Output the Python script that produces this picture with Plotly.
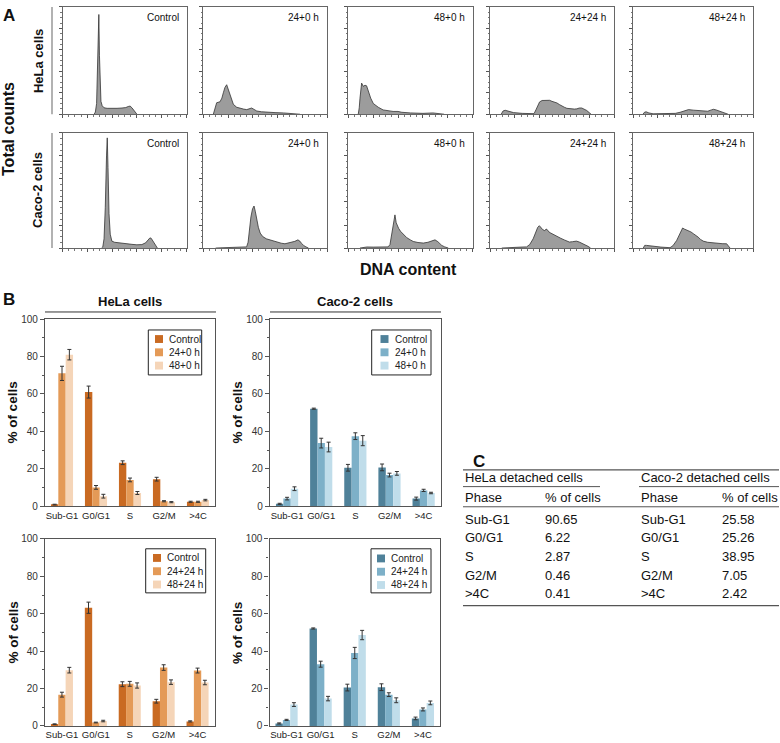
import plotly.graph_objects as go

W, H = 780, 743
FONT = "Liberation Sans, Arial, sans-serif"


def fx(p):
    return p / W


def fy(p):
    return 1 - p / H


# ---------------- Panel A: DNA content histograms ----------------
hist_titles = ["Control", "24+0 h", "48+0 h", "24+24 h", "48+24 h"]

hela_control_x = [255, 265, 275, 282, 288, 293, 298, 304, 310, 320, 335, 360, 400, 440, 480, 510, 530, 545, 560, 575, 590, 600]
hela_control_y = [0, 2, 10, 40, 80, 93, 55, 22, 12, 8, 6, 5.5, 5.2, 5.5, 5.8, 6.2, 7.2, 7.6, 6, 3.5, 1.2, 0]

hela_24_0_x = [81, 95, 108, 135, 150, 162, 175, 189, 200, 216, 230, 243, 270, 296, 325, 351, 372, 391, 410, 432, 470, 512, 580, 647, 700, 728, 782]
hela_24_0_y = [0, 6, 10.7, 11.6, 15, 20, 25, 27.5, 24, 18.3, 13, 9.2, 6.5, 5.5, 4.8, 4.3, 5, 5.8, 4.5, 3, 2.3, 1.8, 1.5, 1.2, 0.9, 0.6, 0]

hela_48_0_x = [80, 88, 94, 101, 107, 121, 134, 147, 161, 180, 201, 241, 280, 320, 360, 400, 430, 500, 600, 680, 720, 770]
hela_48_0_y = [0, 6, 15, 24, 29, 26, 27, 26.5, 21, 15, 10, 6.5, 4, 3, 2.6, 2.6, 1.8, 1.2, 0.8, 1.2, 0.8, 0]

hela_24_24_x = [90, 105, 122, 150, 190, 260, 330, 355, 370, 385, 400, 420, 440, 460, 480, 500, 520, 540, 560, 580, 600, 620, 650, 680, 700, 720, 740, 760, 780, 800, 815]
hela_24_24_y = [0, 3, 3.7, 2.5, 1.5, 0.8, 0.3, 0.5, 4, 8, 11.5, 12.8, 13, 12.5, 13, 12, 11.5, 10.5, 9, 7.5, 6.5, 5.5, 5, 4.8, 5, 5.8, 5.8, 5, 3.5, 1.5, 0]

hela_48_24_x = [80, 95, 108, 130, 165, 250, 310, 350, 390, 425, 460, 500, 540, 580, 620, 650, 668, 690, 723, 760, 790]
hela_48_24_y = [0, 2, 2.2, 1.2, 0.4, 0.3, 0.5, 0.8, 1.8, 3, 4.3, 3.8, 3.3, 2.8, 2.8, 4, 4.6, 4, 2.5, 1, 0]

caco_control_x = [315, 325, 335, 345, 355, 361, 367, 375, 385, 398, 420, 450, 480, 520, 560, 600, 640, 670, 690, 705, 715, 728, 740, 755, 765]
caco_control_y = [0, 1, 8, 35, 80, 95.7, 70, 30, 12, 6, 5, 4.5, 4, 3.7, 3.2, 2.8, 3, 4.5, 7, 8.8, 8.5, 6, 3.5, 1, 0]

caco_24_0_x = [100, 200, 300, 350, 362, 372, 385, 398, 410, 420, 432, 445, 460, 480, 510, 540, 570, 600, 630, 660, 690, 714, 740, 765, 780, 795, 810, 830, 850]
caco_24_0_y = [0, 0.3, 0.5, 1, 5, 15, 27, 34, 36.5, 32, 25, 18, 13, 10, 8, 7, 6, 5, 4.2, 3.7, 4.3, 5, 5.8, 7.1, 6, 4, 2.3, 1, 0]

caco_48_0_x = [94, 150, 200, 250, 300, 320, 335, 350, 362, 375, 385, 395, 405, 420, 442, 470, 500, 522, 560, 603, 640, 670, 697, 720, 740, 751, 775, 804]
caco_48_0_y = [0, 0.9, 0.8, 1, 0.9, 1, 3, 12, 22, 28.8, 22, 19, 17, 14.5, 12.2, 9, 7, 5.7, 4.8, 4.3, 5, 6.3, 7.1, 5.5, 3.5, 2.3, 1, 0]

caco_24_24_x = [95, 150, 200, 250, 295, 320, 348, 370, 385, 398, 410, 425, 442, 452, 461, 475, 490, 510, 540, 570, 600, 617, 640, 665, 697, 720, 745, 765, 790, 811]
caco_24_24_y = [0, 0.5, 0.6, 0.8, 1, 3, 8, 14, 18, 19.4, 18, 16, 15, 16.5, 16, 14, 13, 11.7, 10, 8.5, 7, 6, 5.2, 5.5, 6, 5.2, 4, 3.1, 1.5, 0]

caco_48_24_x = [83, 95, 110, 140, 167, 230, 306, 330, 361, 385, 400, 411, 425, 440, 458, 480, 500, 514, 540, 560, 583, 620, 667, 700, 740, 778, 795, 806]
caco_48_24_y = [0, 2.3, 2.3, 1.8, 1.4, 0.8, 0.3, 2, 6.5, 12, 16, 17.4, 16.5, 16, 15, 14, 12.5, 11.7, 9.5, 7.5, 6, 5, 4.3, 3.8, 3.8, 3.7, 2, 0]

hela_hists = [(hela_control_x, hela_control_y), (hela_24_0_x, hela_24_0_y), (hela_48_0_x, hela_48_0_y),
              (hela_24_24_x, hela_24_24_y), (hela_48_24_x, hela_48_24_y)]
caco_hists = [(caco_control_x, caco_control_y), (caco_24_0_x, caco_24_0_y), (caco_48_0_x, caco_48_0_y),
              (caco_24_24_x, caco_24_24_y), (caco_48_24_x, caco_48_24_y)]

# ---------------- Panel B: % of cells per phase ----------------
phases = ["Sub-G1", "G0/G1", "S", "G2/M", ">4C"]

hela_ctrl_a = [0.8, 61.0, 23.2, 14.4, 2.3]
hela_ctrl_a_err = [0.2, 3.2, 1.0, 1.0, 0.3]
hela_24_0 = [71.0, 10.0, 14.0, 2.6, 2.3]
hela_24_0_err = [3.8, 1.0, 1.0, 0.3, 0.3]
hela_48_0 = [81.0, 5.3, 7.0, 2.1, 3.2]
hela_48_0_err = [2.8, 1.0, 0.8, 0.3, 0.4]

hela_ctrl_b = [0.9, 63.2, 22.3, 13.2, 2.4]
hela_ctrl_b_err = [0.2, 3.0, 1.3, 1.0, 0.3]
hela_24_24 = [16.7, 1.8, 22.5, 31.2, 29.6]
hela_24_24_err = [1.3, 0.2, 1.3, 1.5, 1.3]
hela_48_24 = [29.8, 2.6, 21.6, 23.4, 23.2]
hela_48_24_err = [1.5, 0.4, 1.4, 1.2, 1.2]

caco_ctrl_a = [1.2, 52.1, 20.5, 20.7, 4.0]
caco_ctrl_a_err = [0.3, 0.3, 1.8, 1.8, 0.8]
caco_24_0 = [4.0, 33.7, 37.4, 16.6, 8.4]
caco_24_0_err = [0.7, 2.6, 1.8, 1.0, 0.6]
caco_48_0 = [9.3, 31.6, 35.0, 17.5, 7.0]
caco_48_0_err = [1.0, 2.6, 2.7, 1.0, 0.4]

caco_ctrl_b = [1.3, 52.1, 20.5, 20.7, 4.0]
caco_ctrl_b_err = [0.3, 0.3, 1.8, 1.8, 0.7]
caco_24_24 = [3.2, 33.0, 39.0, 16.7, 8.8]
caco_24_24_err = [0.3, 1.6, 3.0, 1.0, 0.8]
caco_48_24 = [11.4, 14.6, 48.6, 13.7, 12.3]
caco_48_24_err = [1.0, 1.2, 2.5, 1.3, 1.0]

hela_colors = ["#C96A22", "#E49A57", "#F5D5B8"]
caco_colors = ["#4F8199", "#7DB0C8", "#C0DDEA"]

# ---------------- Panel C: detached cells table ----------------
table_phases = ["Sub-G1", "G0/G1", "S", "G2/M", ">4C"]
hela_detached = ["90.65", "6.22", "2.87", "0.46", "0.41"]
caco_detached = ["25.58", "25.26", "38.95", "7.05", "2.42"]

# ------------------------------------------------------------------
fig = go.Figure()
layout = {}
annotations = []
shapes = []
axis_count = [0]


def add_axes(x0, x1, y0, y1, xkw, ykw):
    axis_count[0] += 1
    n = "" if axis_count[0] == 1 else str(axis_count[0])
    layout["xaxis" + n] = dict(domain=[fx(x0), fx(x1)], anchor="y" + n, **xkw)
    layout["yaxis" + n] = dict(domain=[fy(y1), fy(y0)], anchor="x" + n, **ykw)
    return "x" + n, "y" + n


def text(x, y, s, size=10, bold=False, angle=0, xanchor="center", color="#111"):
    annotations.append(dict(
        x=fx(x), y=fy(y), xref="paper", yref="paper", text=("<b>%s</b>" % s) if bold else s,
        showarrow=False, textangle=angle, xanchor=xanchor, yanchor="middle",
        font=dict(family=FONT, size=size, color=color)))


def hline(x0, x1, y, color="#333", width=1):
    shapes.append(dict(type="line", xref="paper", yref="paper", x0=fx(x0), x1=fx(x1),
                       y0=fy(y), y1=fy(y), line=dict(color=color, width=width)))


def vline(x, y0, y1, color="#333", width=1):
    shapes.append(dict(type="line", xref="paper", yref="paper", x0=fx(x), x1=fx(x),
                       y0=fy(y0), y1=fy(y1), line=dict(color=color, width=width)))


def rect(x0, x1, y0, y1, fill="rgba(0,0,0,0)", line_color="#222", width=1):
    shapes.append(dict(type="rect", xref="paper", yref="paper", x0=fx(x0), x1=fx(x1),
                       y0=fy(y1), y1=fy(y0), fillcolor=fill,
                       line=dict(color=line_color, width=width)))


hist_cols = [(62.5, 186.5), (203.3, 327), (348.3, 472.7), (490, 614), (633.3, 753.3)]
hist_rows = [(1, 110), (129, 246)]

hx = dict(range=[0, 1000], showline=True, linecolor="#666", linewidth=1, mirror=True,
          ticks="outside", ticklen=3, tickcolor="#555", tick0=0, dtick=200, showticklabels=False,
          showgrid=False, zeroline=False, fixedrange=True,
          minor=dict(ticks="outside", ticklen=1.5, dtick=50, tickcolor="#777", showgrid=False))
hy = dict(range=[0, 100], showline=True, linecolor="#666", linewidth=1, mirror=True,
          ticks="outside", ticklen=3, tickcolor="#555", tick0=0, dtick=20, showticklabels=False,
          showgrid=False, zeroline=False, fixedrange=True,
          minor=dict(ticks="outside", ticklen=1.5, dtick=5, tickcolor="#777", showgrid=False))

for r, hists in enumerate([hela_hists, caco_hists]):
    y0, y1 = hist_rows[r]
    for c, (xs, ys) in enumerate(hists):
        x0, x1 = hist_cols[c]
        xa, ya = add_axes(x0, x1, y0, y1, hx, hy)
        fig.add_trace(go.Scatter(x=xs, y=ys, xaxis=xa, yaxis=ya, mode="lines", fill="tozeroy",
                                 fillcolor="#9c9c9c", line=dict(color="#333", width=0.8),
                                 showlegend=False, hoverinfo="skip"))
        text(x1 - 6, y0 + 11, hist_titles[c], size=10, xanchor="right")

# Panel A labels
text(1, 10, "A", size=17, bold=True, xanchor="left")
text(9, 125, "Total counts", size=16, bold=True, angle=-90)
text(38, 56, "HeLa cells", size=13, bold=True, angle=-90)
text(38, 187, "Caco-2 cells", size=13, bold=True, angle=-90)
text(408, 268, "DNA content", size=16, bold=True)
vline(52, 1, 110, color="#999", width=1.5)
vline(52, 129, 246, color="#999", width=1.5)

# Panel B bar charts
bx = dict(type="category", range=[-0.5, 4.5], showline=True, linecolor="#555", linewidth=1.3,
          mirror=True, ticks="", showgrid=False, zeroline=False, fixedrange=True,
          tickfont=dict(family=FONT, size=9.5, color="#222"))
by = dict(range=[0, 100], showline=True, linecolor="#555", linewidth=1.3, mirror=True,
          ticks="outside", ticklen=4, tickcolor="#555", tick0=0, dtick=20, showgrid=False,
          zeroline=False, fixedrange=True, tickfont=dict(family=FONT, size=10, color="#333"),
          minor=dict(ticks="outside", ticklen=2, dtick=10, tickcolor="#555", showgrid=False))

# (plot box), (legend box x0, x1, y0, y1), swatch x0, text x, legend item rows
bar_panels = [
    ((45, 215, 318.3, 508.3), (148.3, 201.7, 329.3, 375), 155, 167, [338.5, 352, 365.5], hela_colors,
     [("Control", hela_ctrl_a, hela_ctrl_a_err), ("24+0 h", hela_24_0, hela_24_0_err), ("48+0 h", hela_48_0, hela_48_0_err)]),
    ((270, 440.7, 318.3, 508.3), (371.7, 431, 329.3, 375), 380.5, 392.5, [338.5, 352, 365.5], caco_colors,
     [("Control", caco_ctrl_a, caco_ctrl_a_err), ("24+0 h", caco_24_0, caco_24_0_err), ("48+0 h", caco_48_0, caco_48_0_err)]),
    ((45, 214.5, 541.7, 731.7), (145.7, 205.7, 551.7, 596.5), 153, 165, [561, 574.5, 588], hela_colors,
     [("Control", hela_ctrl_b, hela_ctrl_b_err), ("24+24 h", hela_24_24, hela_24_24_err), ("48+24 h", hela_48_24, hela_48_24_err)]),
    ((269.5, 440, 541.7, 731.7), (371, 431, 551.7, 596.5), 377, 389, [561.5, 575, 588.5], caco_colors,
     [("Control", caco_ctrl_b, caco_ctrl_b_err), ("24+24 h", caco_24_24, caco_24_24_err), ("48+24 h", caco_48_24, caco_48_24_err)]),
]

for (x0, x1, y0, y1), (lx0, lx1, ly0, ly1), sw_x, tx, rows, cols, series in bar_panels:
    xa, ya = add_axes(x0, x1, y0, y1, bx, by)
    for (name, vals, errs), col in zip(series, cols):
        fig.add_trace(go.Bar(x=phases, y=vals, name=name, xaxis=xa, yaxis=ya, showlegend=False,
                             marker=dict(color=col, line=dict(width=0)),
                             error_y=dict(type="data", array=errs, visible=True, color="#333",
                                          thickness=1, width=2),
                             hoverinfo="skip"))
    # legend
    rect(lx0, lx1, ly0, ly1, fill="white", line_color="#222", width=1)
    for (name, _, _), col, ry in zip(series, cols, rows):
        rect(sw_x, sw_x + 8, ry - 4, ry + 4, fill=col, line_color=col, width=0)
        text(tx, ry, name, size=10, xanchor="left", color="#222")
    text(x0 - 32, (y0 + y1) / 2, "% of cells", size=13.5, bold=True, angle=-90)

text(1, 298, "B", size=17, bold=True, xanchor="left")
text(130, 300, "HeLa cells", size=13, bold=True)
text(355, 300, "Caco-2 cells", size=13, bold=True)
hline(45, 216, 311)
hline(270, 441, 311)

# Panel C table
text(471, 463, "C", size=17, bold=True, xanchor="left")
hline(463, 779, 471.5, color="#555", width=1.2)
text(463, 479.5, "HeLa detached cells", size=13, bold=False, xanchor="left")
text(639, 479.5, "Caco-2 detached cells", size=13, bold=False, xanchor="left")
hline(463, 600, 488.5, color="#555", width=1)
hline(639, 779, 488.5, color="#555", width=1)
text(463, 500, "Phase", size=13, xanchor="left")
text(543, 500, "% of cells", size=13, xanchor="left")
text(639, 500, "Phase", size=13, xanchor="left")
text(720, 500, "% of cells", size=13, xanchor="left")
hline(463, 779, 509, color="#555", width=1)
row_y = [521.5, 540.5, 559.5, 578.5, 597.5]
for ph, hv, cv, yy in zip(table_phases, hela_detached, caco_detached, row_y):
    text(463, yy, ph, size=13, xanchor="left")
    text(543, yy, hv, size=13, xanchor="left")
    text(639, yy, ph, size=13, xanchor="left")
    text(720, yy, cv, size=13, xanchor="left")
hline(463, 779, 609.5, color="#555", width=1.2)

layout.update(dict(
    width=W, height=H, margin=dict(l=0, r=0, t=0, b=0),
    paper_bgcolor="white", plot_bgcolor="white",
    barmode="group", bargap=0.35, bargroupgap=0,
    font=dict(family=FONT, color="#222"),
    annotations=annotations, shapes=shapes, showlegend=False,
))
fig.update_layout(**layout)
fig.write_html("out.html", config={"displayModeBar": False},
               post_script="document.body.style.margin='0px';document.body.style.overflow='hidden';")
